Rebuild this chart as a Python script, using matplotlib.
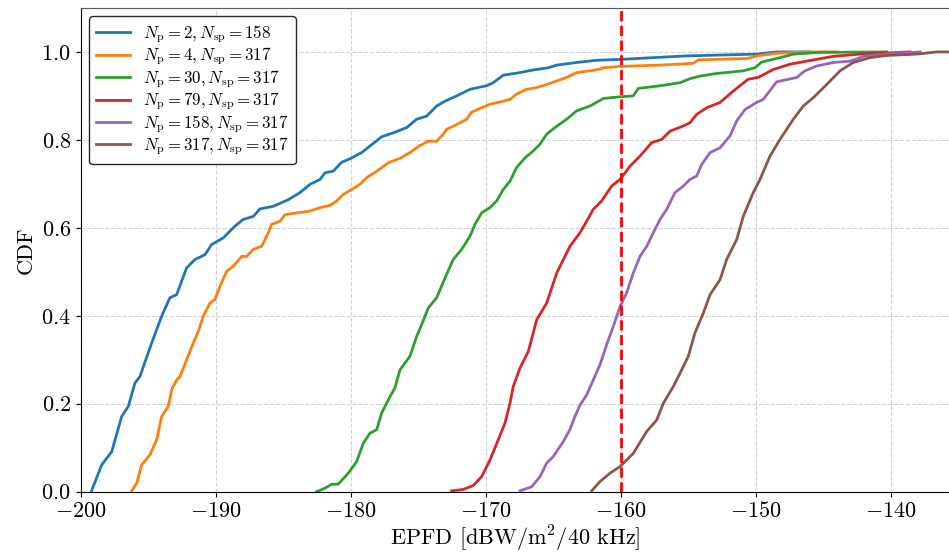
import matplotlib
matplotlib.use("Agg")
import matplotlib.pyplot as plt

plt.rcParams["font.family"] = "serif"
plt.rcParams["font.serif"] = ["cmr10", "DejaVu Serif"]
plt.rcParams["mathtext.fontset"] = "cm"
plt.rcParams["axes.formatter.use_mathtext"] = True
plt.rcParams["axes.unicode_minus"] = True

# CDF curves (EPFD in dBW/m^2/40 kHz, CDF value)
epfd_2_158 = [-199.19, -198.44, -197.70, -196.96, -196.47, -195.98, -195.61, -194.74, -194.0,
              -193.39, -192.89, -192.15, -191.53, -190.79, -190.30, -189.44, -188.57, -187.96,
              -187.21, -186.72, -185.73, -184.62, -183.76, -183.01, -182.27, -181.90, -181.29,
              -180.67, -180.05, -179.19, -178.57, -177.70, -176.84, -175.85, -175.11, -174.37,
              -173.63, -173.01, -172.15, -171.16, -170.42, -169.93, -169.44, -168.70, -167.46,
              -166.47, -165.36, -164.74, -163.26, -161.78, -160.05, -155.11, -149.93, -148.45,
              -146.0]
cdf_2_158 = [0.002, 0.061, 0.091, 0.171, 0.194, 0.247, 0.262, 0.338, 0.399,
             0.441, 0.448, 0.509, 0.528, 0.539, 0.562, 0.577, 0.604, 0.619,
             0.626, 0.643, 0.649, 0.664, 0.680, 0.699, 0.710, 0.725, 0.729,
             0.749, 0.757, 0.771, 0.786, 0.807, 0.816, 0.828, 0.847, 0.854,
             0.877, 0.888, 0.900, 0.915, 0.920, 0.923, 0.930, 0.947, 0.953,
             0.959, 0.964, 0.970, 0.976, 0.981, 0.983, 0.991, 0.995, 1.0,
             1.0]

epfd_4_317 = [-196.22, -195.85, -195.48, -194.87, -194.37, -194.0, -193.51, -193.26, -192.89,
              -192.64, -192.15, -191.66, -191.29, -190.92, -190.42, -190.05, -189.68, -189.19,
              -188.70, -188.07, -187.70, -187.21, -186.59, -186.22, -185.85, -185.24, -184.86,
              -184.0, -183.01, -182.27, -181.53, -181.04, -180.55, -179.93, -179.31, -178.81,
              -178.07, -177.21, -176.35, -175.61, -174.87, -174.25, -173.63, -173.14, -172.89,
              -172.40, -171.90, -171.41, -171.04, -170.30, -169.68, -168.70, -168.20, -167.71,
              -166.97, -166.22, -165.48, -164.74, -164.0, -163.26, -162.27, -161.53, -161.29,
              -160.05, -157.09, -154.62, -154.25, -150.67, -149.68, -148.45, -146.23, -144.0]
cdf_4_317 = [0.002, 0.019, 0.061, 0.084, 0.118, 0.171, 0.194, 0.232, 0.254,
             0.262, 0.300, 0.338, 0.364, 0.399, 0.429, 0.437, 0.467, 0.501,
             0.513, 0.535, 0.535, 0.551, 0.558, 0.581, 0.608, 0.615, 0.630,
             0.634, 0.638, 0.646, 0.651, 0.661, 0.676, 0.687, 0.699, 0.714,
             0.729, 0.748, 0.758, 0.771, 0.787, 0.797, 0.797, 0.813, 0.824,
             0.831, 0.839, 0.847, 0.863, 0.873, 0.881, 0.888, 0.892, 0.904,
             0.915, 0.919, 0.926, 0.934, 0.942, 0.953, 0.957, 0.961, 0.964,
             0.967, 0.970, 0.974, 0.982, 0.985, 0.992, 0.997, 1.0, 1.0]

epfd_30_317 = [-182.52, -181.90, -181.41, -180.92, -180.18, -179.56, -179.07, -178.57, -178.07,
               -177.70, -177.09, -176.72, -176.35, -175.61, -175.11, -174.74, -174.25, -173.63,
               -173.01, -172.40, -171.78, -171.16, -170.79, -170.30, -169.68, -169.19, -168.70,
               -168.20, -167.71, -167.09, -166.47, -165.98, -165.48, -164.87, -164.0, -163.26,
               -162.27, -161.29, -160.05, -159.07, -158.69, -157.09, -155.61, -154.87, -154.13,
               -152.89, -150.92, -150.05, -149.56, -148.20, -147.21, -145.24, -140.3]
cdf_30_317 = [0.0, 0.008, 0.017, 0.017, 0.042, 0.068, 0.110, 0.133, 0.141,
              0.179, 0.216, 0.236, 0.277, 0.308, 0.353, 0.380, 0.418, 0.441,
              0.486, 0.528, 0.551, 0.581, 0.608, 0.634, 0.646, 0.661, 0.687,
              0.706, 0.737, 0.759, 0.775, 0.790, 0.813, 0.828, 0.847, 0.866,
              0.877, 0.894, 0.898, 0.900, 0.917, 0.923, 0.930, 0.939, 0.945,
              0.951, 0.957, 0.964, 0.977, 0.987, 0.995, 0.999, 1.0]

epfd_79_317 = [-172.52, -171.66, -170.92, -170.30, -169.68, -169.07, -168.57, -168.20, -167.96,
               -167.46, -166.84, -166.22, -165.48, -164.74, -163.76, -163.01, -162.52, -162.03,
               -161.41, -160.67, -160.05, -159.31, -158.57, -157.70, -156.96, -156.34, -155.48,
               -154.87, -154.37, -153.63, -152.64, -151.66, -150.55, -149.81, -148.70, -147.46,
               -146.23, -144.25, -142.27, -138.57]
cdf_79_317 = [0.002, 0.005, 0.014, 0.034, 0.072, 0.118, 0.156, 0.201, 0.239,
              0.281, 0.319, 0.391, 0.429, 0.497, 0.558, 0.589, 0.615, 0.642,
              0.661, 0.695, 0.710, 0.740, 0.763, 0.794, 0.801, 0.820, 0.830,
              0.839, 0.858, 0.873, 0.885, 0.911, 0.938, 0.942, 0.960, 0.972,
              0.979, 0.990, 0.995, 1.0]

epfd_158_317 = [-167.46, -166.60, -165.98, -165.48, -164.99, -164.25, -163.76, -163.39, -163.01,
                -162.52, -162.03, -161.53, -161.04, -160.54, -160.05, -159.56, -159.07, -158.57,
                -158.07, -157.58, -157.09, -156.59, -155.98, -155.36, -154.87, -154.37, -154.0,
                -153.38, -152.64, -151.90, -151.41, -150.79, -149.93, -149.44, -148.45, -146.96,
                -146.35, -145.48, -144.25, -142.99, -142.01, -140.3, -137.83]
cdf_158_317 = [0.002, 0.011, 0.034, 0.065, 0.080, 0.114, 0.141, 0.171, 0.197,
               0.220, 0.254, 0.289, 0.334, 0.376, 0.421, 0.452, 0.497, 0.535,
               0.558, 0.589, 0.619, 0.642, 0.680, 0.695, 0.710, 0.718, 0.744,
               0.771, 0.782, 0.809, 0.843, 0.869, 0.885, 0.892, 0.932, 0.942,
               0.957, 0.968, 0.976, 0.979, 0.990, 0.995, 1.0]

epfd_317_317 = [-162.15, -161.53, -160.79, -160.05, -159.07, -158.07, -157.33, -156.84, -156.10,
                -155.48, -154.99, -154.50, -153.88, -153.38, -152.64, -152.15, -151.41, -150.92,
                -150.18, -149.68, -148.94, -148.20, -147.21, -146.47, -145.73, -144.74, -143.75,
                -142.77, -141.53, -140.3, -138.07, -136.59, -135.68]
cdf_317_317 = [0.002, 0.023, 0.042, 0.057, 0.087, 0.137, 0.163, 0.201, 0.239,
               0.277, 0.308, 0.361, 0.406, 0.448, 0.482, 0.528, 0.573, 0.626,
               0.680, 0.710, 0.763, 0.801, 0.847, 0.877, 0.896, 0.926, 0.957,
               0.976, 0.987, 0.992, 0.995, 1.0, 1.0]

curves = [
    (epfd_2_158, cdf_2_158, r"$N_\mathrm{p} = 2, N_\mathrm{sp} = 158$"),
    (epfd_4_317, cdf_4_317, r"$N_\mathrm{p} = 4, N_\mathrm{sp} = 317$"),
    (epfd_30_317, cdf_30_317, r"$N_\mathrm{p} = 30, N_\mathrm{sp} = 317$"),
    (epfd_79_317, cdf_79_317, r"$N_\mathrm{p} = 79, N_\mathrm{sp} = 317$"),
    (epfd_158_317, cdf_158_317, r"$N_\mathrm{p} = 158, N_\mathrm{sp} = 317$"),
    (epfd_317_317, cdf_317_317, r"$N_\mathrm{p} = 317, N_\mathrm{sp} = 317$"),
]
epfd_limit = -160

fig = plt.figure(figsize=(9.49, 5.56), dpi=100)
ax = fig.add_axes([0.085, 0.1157, 0.915, 0.870])

for x, y, label in curves:
    ax.plot(x, y, linewidth=2, label=label)

ax.axvline(epfd_limit, color="red", linestyle="--", linewidth=2)

ax.set_xlim(-200, -135.68)
ax.set_ylim(0, 1.1)
ax.set_xticks([-200, -190, -180, -170, -160, -150, -140])
ax.set_yticks([0.0, 0.2, 0.4, 0.6, 0.8, 1.0])
ax.grid(True, linestyle="--", color="0.82", linewidth=0.8)
ax.spines["right"].set_visible(False)
ax.spines["top"].set_color("0.35")
ax.tick_params(labelsize=16)

ax.set_xlabel(r"EPFD [dBW/m$^2$/40 kHz]", fontsize=16, labelpad=2)
ax.set_ylabel("CDF", fontsize=16)

leg = ax.legend(loc="upper left", fontsize=12.2, framealpha=1, fancybox=True,
                labelspacing=0.04, borderaxespad=0.5)
leg.get_frame().set_edgecolor("0.15")

fig.savefig("out.png", dpi=100)
